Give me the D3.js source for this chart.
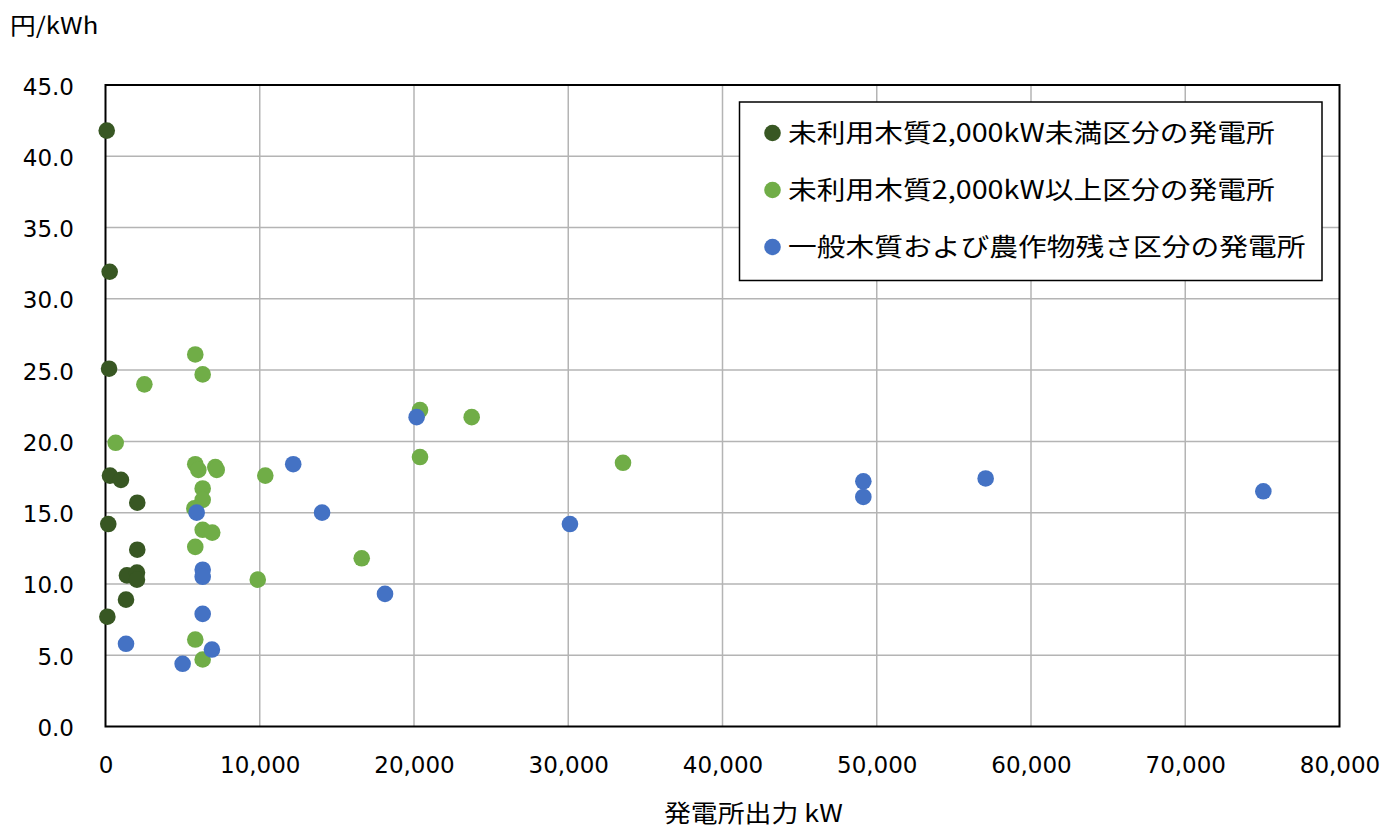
<!DOCTYPE html>
<html>
<head>
<meta charset="utf-8">
<script src="https://cdn.jsdelivr.net/npm/d3@7"></script>
<style>
  html, body { margin: 0; padding: 0; background: #fff; }
  svg { display: block; }
</style>
</head>
<body>
<svg id="chart" width="1385" height="828"></svg>
<script>
// Series: [output kW, cost 円/kWh]
const seriesNames = [
  "未利用木質2,000kW未満区分の発電所",
  "未利用木質2,000kW以上区分の発電所",
  "一般木質および農作物残さ区分の発電所"
];
const seriesColors = ["#385723", "#70AD47", "#4472C4"];

const smallUnused = [
  [80, 41.8], [270, 31.9], [230, 25.1], [290, 17.6], [1000, 17.3],
  [2060, 15.7], [180, 14.2], [2060, 12.4], [1390, 10.6], [2040, 10.8],
  [2040, 10.3], [1330, 8.9], [120, 7.7]
];
const largeUnused = [
  [5820, 26.1], [6300, 24.7], [2520, 24.0], [660, 19.9], [5820, 18.4],
  [6020, 18.0], [7120, 18.2], [7210, 18.0], [10360, 17.6], [6300, 16.7],
  [6300, 15.9], [5760, 15.3], [6300, 13.8], [6920, 13.6], [5820, 12.6],
  [9870, 10.3], [5820, 6.1], [6300, 4.7], [20390, 22.2], [23740, 21.7],
  [20390, 18.9], [16610, 11.8], [33550, 18.5]
];
const generalWood = [
  [5910, 15.0], [6300, 11.0], [6300, 10.5], [6300, 7.9], [1330, 5.8],
  [6900, 5.4], [5000, 4.4], [12170, 18.4], [14040, 15.0], [18120, 9.3],
  [20170, 21.7], [30110, 14.2], [49130, 17.2], [49130, 16.1], [57060, 17.4],
  [75060, 16.5]
];

const xTicks = [0, 10000, 20000, 30000, 40000, 50000, 60000, 70000, 80000];
const yTicks = [0, 5, 10, 15, 20, 25, 30, 35, 40, 45];
const yUnit = "円/kWh";
const xTitle = "発電所出力 kW";

const allSeries = [smallUnused, largeUnused, generalWood];

const svg = d3.select("#chart");
const plot = { left: 105.5, right: 1339.5, top: 85, bottom: 726.5 };

const x = d3.scaleLinear().domain([0, 80000]).range([plot.left, plot.right]);
const y = d3.scaleLinear().domain([0, 45]).range([plot.bottom, plot.top]);

const latin = "'DejaVu Sans', sans-serif";
const cjk = "'Noto Sans CJK JP', 'Noto Sans', sans-serif";
const stretch = 1.12;

// Gridlines
const grid = svg.append("g");
grid.selectAll("line.v").data(xTicks.slice(1, -1)).join("line")
  .attr("x1", d => x(d)).attr("x2", d => x(d))
  .attr("y1", plot.top).attr("y2", plot.bottom)
  .attr("stroke", "#b4b4b4").attr("stroke-width", 1.5);
grid.selectAll("line.h").data(yTicks.slice(1, -1)).join("line")
  .attr("x1", plot.left).attr("x2", plot.right)
  .attr("y1", d => y(d)).attr("y2", d => y(d))
  .attr("stroke", "#b4b4b4").attr("stroke-width", 1.5);

// Plot frame
svg.append("rect")
  .attr("x", plot.left).attr("y", plot.top)
  .attr("width", plot.right - plot.left).attr("height", plot.bottom - plot.top)
  .attr("fill", "none").attr("stroke", "#000").attr("stroke-width", 2);

// Axes (labels only, frame drawn above)
const xAxis = d3.axisBottom(x).tickValues(xTicks).tickSize(0)
  .tickFormat(d3.format(","));
const gx = svg.append("g").attr("transform", `translate(0,${plot.bottom})`).call(xAxis);
gx.select(".domain").remove();
gx.selectAll("text")
  .attr("font-family", latin).attr("font-size", 23).attr("fill", "#000")
  .attr("dy", null).attr("y", 46);

const yAxis = d3.axisLeft(y).tickValues(yTicks).tickSize(0)
  .tickFormat(d3.format(".1f"));
const gy = svg.append("g").attr("transform", `translate(${plot.left},0)`).call(yAxis);
gy.select(".domain").remove();
gy.selectAll("text")
  .attr("font-family", latin).attr("font-size", 23).attr("fill", "#000")
  .attr("x", -31.5).attr("dy", null).attr("y", 9);

// Points
allSeries.forEach((data, i) => {
  svg.append("g").selectAll("circle").data(data).join("circle")
    .attr("cx", d => x(d[0])).attr("cy", d => y(d[1]))
    .attr("r", 8.3).attr("fill", seriesColors[i]);
});

// Axis titles
svg.append("text")
  .attr("transform", `translate(10,34) scale(${stretch},1)`)
  .attr("font-family", cjk).attr("font-size", 23).attr("fill", "#000")
  .text(yUnit);

svg.append("text")
  .attr("transform", `translate(664,822) scale(${stretch},1)`)
  .attr("font-family", cjk).attr("font-size", 24).attr("fill", "#000")
  .text(xTitle);

// Legend
const legend = svg.append("g");
legend.append("rect")
  .attr("x", 739.5).attr("y", 102).attr("width", 582.5).attr("height", 178.5)
  .attr("fill", "#fff").attr("stroke", "#000").attr("stroke-width", 1.5);
const rowY = [133, 190, 247];
seriesNames.forEach((name, i) => {
  legend.append("circle")
    .attr("cx", 772.5).attr("cy", rowY[i]).attr("r", 8.3)
    .attr("fill", seriesColors[i]);
  legend.append("text")
    .attr("transform", `translate(788,${rowY[i] + 9}) scale(1.15,1)`)
    .attr("font-family", cjk).attr("font-size", 25).attr("fill", "#000")
    .text(name);
});
</script>
</body>
</html>
